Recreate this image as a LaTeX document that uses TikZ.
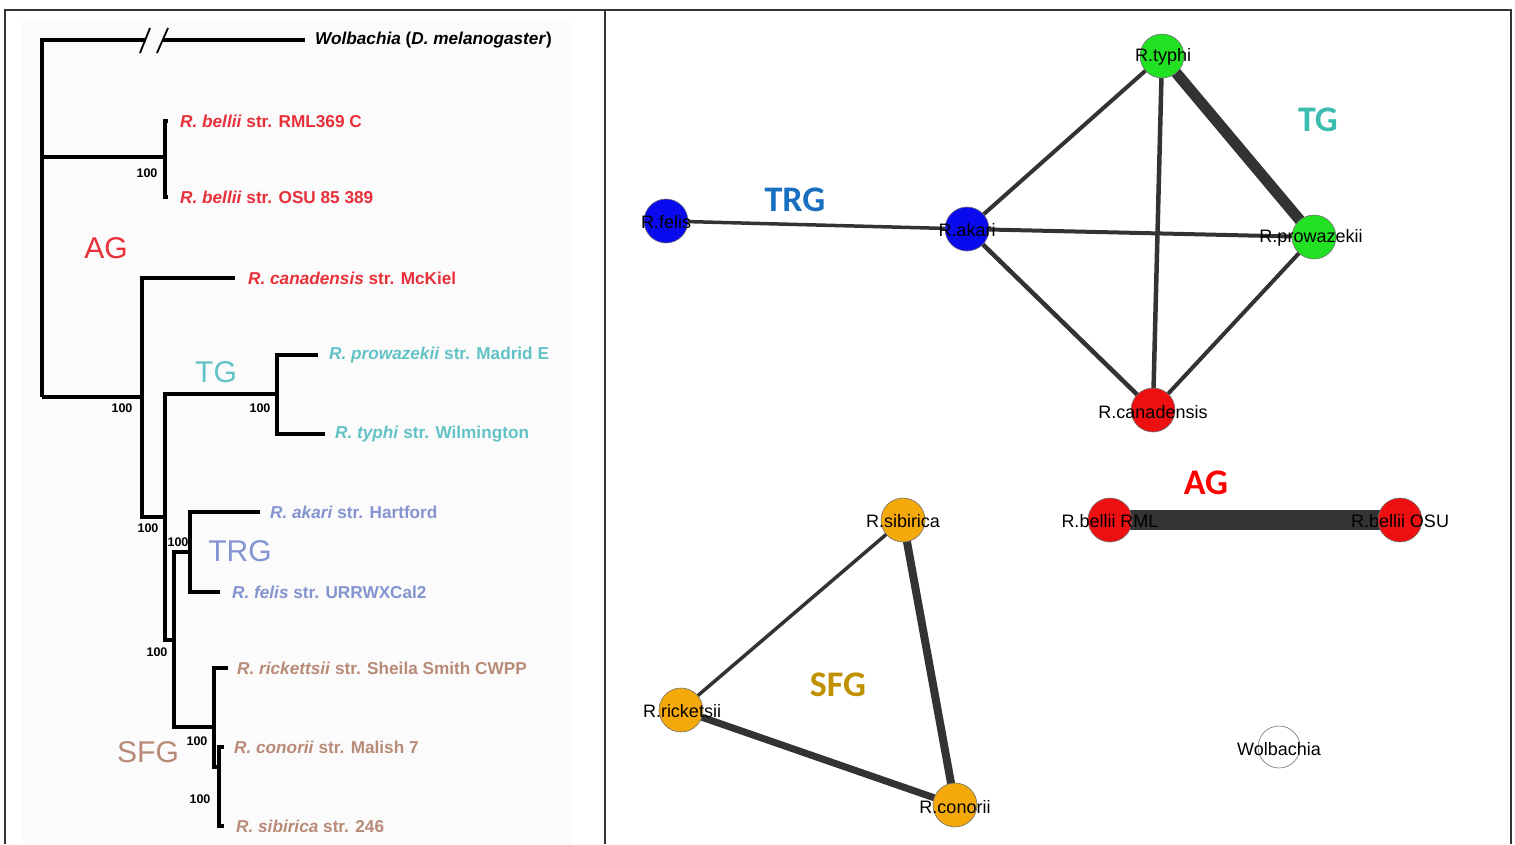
\documentclass[tikz,border=0pt]{standalone}
\usepackage{fontspec}
\setmainfont{Liberation Sans}
\newfontfamily\calfont{Carlito}
\usetikzlibrary{backgrounds}
\definecolor{agred}{HTML}{E8303A}
\definecolor{tgteal}{HTML}{62C2C6}
\definecolor{trgblue}{HTML}{8494D0}
\definecolor{sfgbrown}{HTML}{B88A78}
\definecolor{vblue}{HTML}{0A0AEE}
\definecolor{vgreen}{HTML}{22E022}
\definecolor{vred}{HTML}{EE1010}
\definecolor{vorange}{HTML}{F5A80A}
\definecolor{edgegray}{HTML}{333333}

\begin{document}
\begin{tikzpicture}[x=1pt, y=-1pt,
  branch/.style={line width=3.4pt},
  leaf/.style={anchor=west, inner sep=0pt, font=\fontsize{17.2}{19}\selectfont\bfseries},
  boot/.style={inner sep=0pt, font=\fontsize{12.5}{14}\selectfont\bfseries},
  grp/.style={inner sep=0pt, font=\fontsize{30}{32}\selectfont},
  vtx/.style={circle, minimum size=44pt, inner sep=0pt, draw=black!55, line width=0.6pt},
  vlab/.style={inner sep=0pt, font=\fontsize{18}{20}\selectfont},
  ngrp/.style={inner sep=0pt, font=\calfont\bfseries\fontsize{36}{40}\selectfont},
  edge/.style={draw=edgegray}]
  \useasboundingbox (0,0) rectangle (1515,844);

  % panels
  \fill[black!1.5] (22,22) rectangle (571,844);
  \draw[line width=1.3pt, black!80] (5,844) -- (5,10) -- (1511,10) -- (1511,844);
  \draw[line width=1.3pt, black!80] (605,10) -- (605,844);

  % ---- tree ----
  \node[leaf] (wolb) at (315,40) {\textit{Wolbachia} (\textit{D. melanogaster})};
  \node[leaf, agred] (bel1) at (180,121) {\textit{R. bellii} str. RML369 C};
  \node[leaf, agred] (bel2) at (180,197) {\textit{R. bellii} str. OSU 85 389};
  \node[leaf, agred] (can) at (248,278) {\textit{R. canadensis} str. McKiel};
  \node[leaf, tgteal] (pro) at (329,355) {\textit{R. prowazekii} str. Madrid E};
  \node[leaf, tgteal] (typ) at (335,434) {\textit{R. typhi} str. Wilmington};
  \node[leaf, trgblue] (aka) at (270,512) {\textit{R. akari} str. Hartford};
  \node[leaf, trgblue] (fel) at (232,592) {\textit{R. felis} str. URRWXCal2};
  \node[leaf, sfgbrown] (ric) at (237,668) {\textit{R. rickettsii} str. Sheila Smith CWPP};
  \node[leaf, sfgbrown] (con) at (234,747) {\textit{R. conorii} str. Malish 7};
  \node[leaf, sfgbrown] (sib) at (236,826) {\textit{R. sibirica} str. 246};

  \coordinate (root) at (42,397);
  \coordinate (nB) at (165,157);
  \coordinate (n1) at (142,397);
  \coordinate (n2) at (165,517);
  \coordinate (nTG) at (277,394);
  \coordinate (n3) at (174,640);
  \coordinate (nTRG) at (190,552);
  \coordinate (nSFG) at (214,727);
  \coordinate (nCS) at (219,767);

  \draw[branch] (root) |- (146,40);
  \draw[branch] (163,40) -- ([xshift=-10pt]wolb.west);
  \draw[line width=1.8pt] (140,53) -- (150,28) (157,53) -- (168,28);
  \draw[branch] (42,157) -- (nB);
  \draw[branch] ([xshift=-12pt]bel1.west) -| (nB) |- ([xshift=-12pt]bel2.west);
  \draw[branch] (root) -- (n1);
  \draw[branch] ([xshift=-13pt]can.west) -| (n1) |- (n2);
  \draw[branch] (nTG) -| (n2) |- (n3);
  \draw[branch] ([xshift=-11pt]pro.west) -| (nTG) |- ([xshift=-10pt]typ.west);
  \draw[branch] (nTRG) -| (n3) |- (nSFG);
  \draw[branch] ([xshift=-10pt]aka.west) -| (nTRG) |- ([xshift=-12pt]fel.west);
  \draw[branch] ([xshift=-9pt]ric.west) -| (nSFG) |- (nCS);
  \draw[branch] ([xshift=-10pt]con.west) -| (nCS) |- ([xshift=-12pt]sib.west);

  \node[boot] (bB) at (147,173) {100};
  \node[boot] (b1) at (122,408) {100};
  \node[boot] (b2) at (148,528) {100};
  \node[boot] (bTG) at (260,408) {100};
  \node[boot] (bTRG) at (178,542) {100};
  \node[boot] (b3) at (157,652) {100};
  \node[boot] (bSFG) at (197,741) {100};
  \node[boot] (bCS) at (200,799) {100};

  \node[grp, agred] (gAG) at (106,248) {AG};
  \node[grp, tgteal] (gTG) at (216,372) {TG};
  \node[grp, trgblue] (gTRG) at (240,551) {TRG};
  \node[grp, sfgbrown] (gSFG) at (148,752) {SFG};

  % ---- network ----
  \node[vtx, fill=vblue] (felis) at (666,221) {};
  \node[vtx, fill=vblue] (akari) at (967,229) {};
  \node[vtx, fill=vgreen] (typhi) at (1162,56) {};
  \node[vtx, fill=vgreen] (prow) at (1314,237) {};
  \node[vtx, fill=vred] (canad) at (1153,410) {};
  \node[vtx, fill=vorange] (sibir) at (903,520) {};
  \node[vtx, fill=vred] (brml) at (1110,520) {};
  \node[vtx, fill=vred] (bosu) at (1400,520) {};
  \node[vtx, fill=vorange] (ricke) at (681,710) {};
  \node[vtx, fill=vorange] (conor) at (955,805) {};
  \node[vtx, fill=white, minimum size=42pt] (wolnet) at (1279,747) {};

  \begin{scope}[on background layer]
    \draw[edge, line width=3.5pt] (felis.center) -- (akari.center);
    \draw[edge, line width=4pt] (akari.center) -- (typhi.center);
    \draw[edge, line width=4pt] (akari.center) -- (prow.center);
    \draw[edge, line width=4.5pt] (akari.center) -- (canad.center);
    \draw[edge, line width=4.5pt] (typhi.center) -- (canad.center);
    \draw[edge, line width=4pt] (prow.center) -- (canad.center);
    \draw[edge, line width=11pt] (typhi.center) -- (prow.center);
    \draw[edge, line width=20pt] (brml.center) -- (bosu.center);
    \draw[edge, line width=3.5pt] (sibir.center) -- (ricke.center);
    \draw[edge, line width=8pt] (sibir.center) -- (conor.center);
    \draw[edge, line width=7pt] (ricke.center) -- (conor.center);
  \end{scope}

  \node[vlab] (felisL) at (666,222) {R.felis};
  \node[vlab] (akariL) at (967,230) {R.akari};
  \node[vlab] (typhiL) at (1163,57) {R.typhi};
  \node[vlab] (prowL) at (1311,238) {R.prowazekii};
  \node[vlab] (canadL) at (1153,412) {R.canadensis};
  \node[vlab] (sibirL) at (903,521) {R.sibirica};
  \node[vlab] (brmlL) at (1110,521) {R.bellii RML};
  \node[vlab] (bosuL) at (1400,521) {R.bellii OSU};
  \node[vlab] (rickeL) at (682,711) {R.ricketsii};
  \node[vlab] (conorL) at (955,807) {R.conorii};
  \node[vlab] (wolnetL) at (1279,749) {Wolbachia};

  \node[ngrp, color={rgb,255:red,26;green,112;blue,192}] (nTRGl) at (795,200) {TRG};
  \node[ngrp, color={rgb,255:red,60;green,188;blue,176}] (nTGl) at (1318,120) {TG};
  \node[ngrp, color={rgb,255:red,255;green,0;blue,0}] (nAGl) at (1206,483) {AG};
  \node[ngrp, color={rgb,255:red,191;green,144;blue,0}] (nSFGl) at (838,685) {SFG};
\end{tikzpicture}
\end{document}
